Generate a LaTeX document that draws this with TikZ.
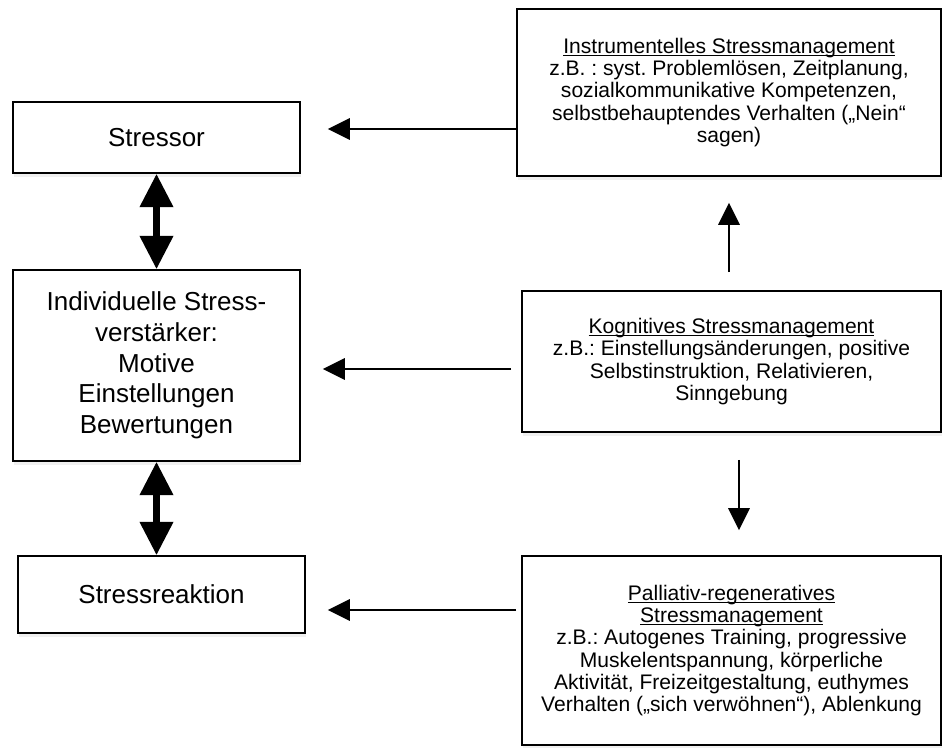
\documentclass[tikz,border=0pt]{standalone}
\usepackage{fontspec}
\setmainfont{Liberation Sans}
\usepackage{tikz}
\usetikzlibrary{arrows.meta, calc, shadows}

\frenchspacing
\newcommand{\uln}[1]{\setbox0\hbox{#1}\leavevmode\rlap{\rule[-2pt]{\wd0}{0.75pt}}\box0}

\tikzset{
  box/.style={draw=black, fill=white, line width=1.2pt, inner sep=0pt, align=center,
    drop shadow={opacity=0.12, shadow xshift=1pt, shadow yshift=-3pt}},
  leftbox/.style={box, minimum width=215.25pt,
    font=\fontsize{19.5}{23}\selectfont},
  rightbox/.style={box, font=\fontsize{15.8}{16.7}\selectfont},
  thinarrow/.style={-{Triangle[length=16.5pt, width=16pt]}, line width=1.5pt},
  fatarrow/.style={{Triangle[length=25pt, width=24pt]}-{Triangle[length=25pt, width=24pt]}, line width=5.25pt}
}

\begin{document}
\begin{tikzpicture}[x=0.75pt, y=-0.75pt]
  \useasboundingbox (0,0) rectangle (944,747);

  % Left column
  \node[leftbox, minimum height=53.25pt] (stressor) at (156.5,137.5) {Stressor};
  \node[leftbox, minimum height=143.25pt] (indiv) at (156.5,365.5) {
    Individuelle Stress-\\
    verstärker:\\
    Motive\\
    Einstellungen\\
    Bewertungen
  };
  \node[leftbox, minimum height=57.75pt] (reakt) at (161.5,594.5) {Stressreaktion};

  % Right column
  \node[rightbox, minimum width=318pt, minimum height=125.25pt] (instr) at (729,92.5) {
    \uln{Instrumentelles Stressmanagement}\\
    z.B. : syst. Problemlösen, Zeitplanung,\\
    sozialkommunikative Kompetenzen,\\
    selbstbehauptendes Verhalten („Nein“\\
    sagen)
  };
  \node[rightbox, minimum width=314.25pt, minimum height=105.75pt] (kogn) at (731.5,361.5) {
    \uln{Kognitives Stressmanagement}\\
    z.B.: Einstellungsänderungen, positive\\
    Selbstinstruktion, Relativieren,\\
    Sinngebung
  };
  \node[rightbox, minimum width=314.25pt, minimum height=141.75pt] (pall) at (731.5,650.5) {
    \uln{Palliativ-regeneratives}\\
    \uln{Stressmanagement}\\
    z.B.: Autogenes Training, progressive\\
    Muskelentspannung, körperliche\\
    Aktivität, Freizeitgestaltung, euthymes\\
    Verhalten („sich verwöhnen“), Ablenkung
  };

  % Double arrows
  \draw[fatarrow] (stressor.south) -- (indiv.north);
  \draw[fatarrow] (indiv.south) -- (indiv.south |- reakt.north);

  % Management to the left column
  \draw[thinarrow] ($(instr.west |- stressor.east)+(0,-8.5)$) -- ($(stressor.east)+(27,-8.5)$);
  \draw[thinarrow] ($(kogn.west)+(-10,7.5)$) -- ($(indiv.east |- kogn.west)+(22,7.5)$);
  \draw[thinarrow] ($(pall.west |- reakt.east)+(-5,15.5)$) -- ($(reakt.east)+(22,15.5)$);

  % Kognitives up and down
  \draw[thinarrow] ($(kogn.north)+(-2.5,-18)$) -- ($(instr.south)+(0,26)$);
  \draw[thinarrow] ($(kogn.south)+(7.5,27)$) -- ($(pall.north)+(7.5,-25)$);
\end{tikzpicture}
\end{document}
